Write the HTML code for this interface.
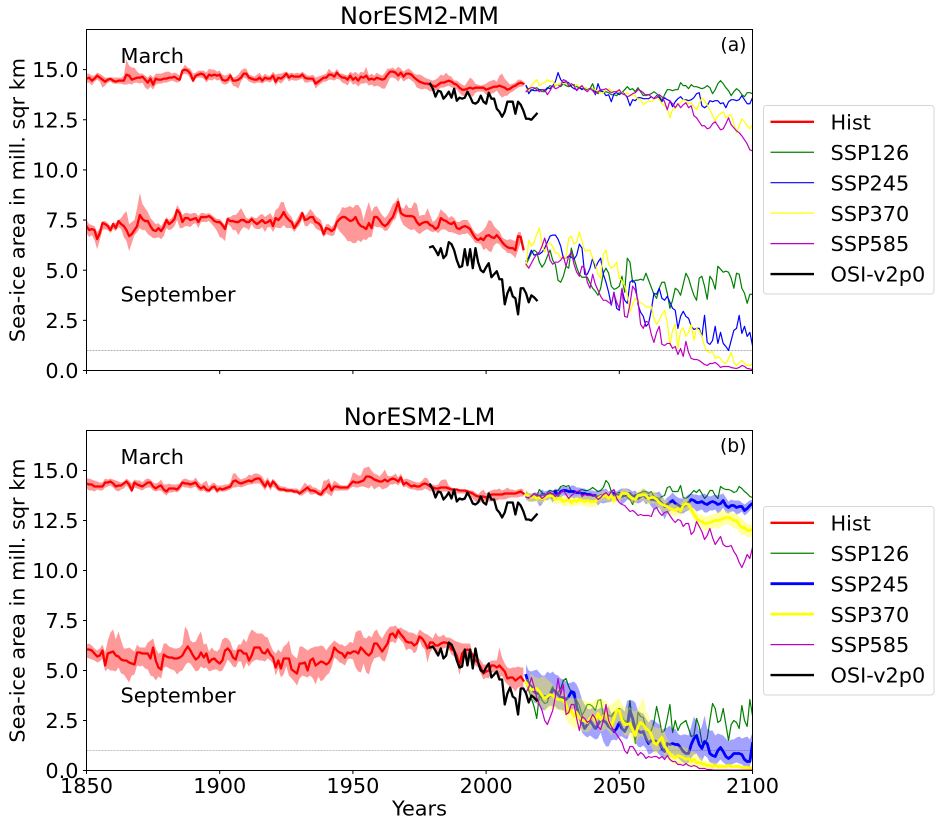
<!DOCTYPE html>
<html lang="en">
<head>
<meta charset="utf-8">
<title>Sea-ice area: NorESM2-MM and NorESM2-LM</title>
<style>
html,body{margin:0;padding:0;background:#fff;width:943px;height:823px;overflow:hidden}
svg{display:block;font-family:"DejaVu Sans","Liberation Sans",sans-serif;fill:#000}
</style>
</head>
<body>
<svg id="chart" xmlns="http://www.w3.org/2000/svg" width="943" height="823" viewBox="0 0 943 823">
  <text x="419.5" y="24" font-size="24" text-anchor="middle">NorESM2-MM</text>
  <text x="419.5" y="425" font-size="24" text-anchor="middle">NorESM2-LM</text>
  <text transform="translate(24.5,200) rotate(-90)" font-size="20.83" text-anchor="middle">Sea-ice area in mill. sqr km</text>
  <text transform="translate(24.5,600.5) rotate(-90)" font-size="20.83" text-anchor="middle">Sea-ice area in mill. sqr km</text>
  <text x="419.5" y="815.7" font-size="20.83" text-anchor="middle">Years</text>
</svg>
<script>
// ---------- shared axis data ----------
const xTickYears = [1850, 1900, 1950, 2000, 2050, 2100];
const xTickLabels = ["1850", "1900", "1950", "2000", "2050", "2100"];
const yTickValues = [0, 2.5, 5, 7.5, 10, 12.5, 15];
const yTickLabels = ["0.0", "2.5", "5.0", "7.5", "10.0", "12.5", "15.0"];
const thresholdValue = [1];
const histStartYear = 1850;
const sspStartYear = 2015;
const obsStartYear = 1979;

// ---------- observations (both panels) ----------
const osiMarch = [14.3,14.05,13.65,13.95,13.9,13.55,13.7,13.9,13.6,14.05,13.45,13.6,13.55,13.6,13.9,13.65,13.35,13.3,13.4,13.7,13.4,13.3,13.85,13.55,13.55,13.05,12.9,12.65,12.9,13.4,13.4,13.4,12.8,13.4,13.25,12.95,12.55,12.55,12.5,12.65,12.8];
const osiSeptember = [6.15,6.2,6.0,5.75,6.1,5.6,5.75,6.4,6.3,6.0,5.5,5.15,5.2,6.05,5.25,6.05,5.1,6.1,5.4,5.0,4.9,5.15,5.35,4.65,4.8,4.95,4.55,4.55,3.3,3.85,4.15,3.7,3.6,2.8,4.1,4.1,3.85,3.4,3.75,3.65,3.5];

// ---------- panel (a) NorESM2-MM, historical ----------
const mmMarMean = [14.55,14.6,14.45,14.55,14.7,14.6,14.5,14.4,14.5,14.55,
14.45,14.4,14.45,14.45,14.45,14.75,14.7,14.5,14.55,14.6,
14.6,14.65,14.5,14.35,14.55,14.25,14.55,14.5,14.5,14.55,
14.55,14.6,14.6,14.65,14.55,14.5,14.95,15.0,14.95,14.8,
14.45,14.7,14.75,14.8,14.75,14.55,14.75,14.7,14.75,14.7,
14.75,14.5,14.45,14.5,14.7,14.45,14.45,14.5,14.6,14.8,
14.8,14.6,14.55,14.5,14.5,14.6,14.45,14.6,14.55,14.55,
14.7,14.4,14.6,14.55,14.65,14.8,14.6,14.7,14.65,14.65,
14.65,14.75,14.6,14.55,14.55,14.55,14.3,14.4,14.5,14.6,
14.6,14.75,14.75,14.65,14.85,14.7,14.6,14.6,14.5,14.7,
14.5,14.6,14.45,14.65,14.6,14.7,14.5,14.55,14.5,14.6,
14.55,14.5,14.55,14.75,14.9,14.9,14.85,14.7,14.85,14.65,
14.8,14.8,14.75,14.6,14.5,14.4,14.35,14.3,14.3,14.25,
14.2,14.15,14.25,14.35,14.35,14.4,14.45,14.4,14.3,14.25,
14.1,14.0,14.0,14.05,14.1,14.05,14.1,14.1,14.1,14.1,
14.0,14.05,14.1,14.15,14.15,14.2,14.15,14.1,14.0,14.05,
14.15,14.2,14.3,14.35,14.3];
const mmMarHigh = [14.8,14.8,14.7,14.7,14.85,14.8,14.7,14.6,14.6,14.6,
14.6,14.6,14.6,14.6,14.7,15.5,15.2,15.1,15.1,14.9,
14.8,14.8,14.7,14.6,14.75,14.6,14.8,14.8,14.8,14.85,
14.9,14.9,14.8,14.85,14.8,14.7,15.05,15.25,15.1,15.05,
14.8,14.85,14.95,14.95,14.95,14.85,15.05,15.0,15.0,14.9,
14.95,14.75,14.7,14.75,14.85,14.6,14.65,14.75,14.95,15.05,
15.05,14.75,14.7,14.65,14.75,14.85,14.65,14.8,14.7,14.7,
14.9,14.75,14.8,14.8,14.85,14.9,14.8,14.85,14.8,14.85,
14.8,14.9,14.8,14.7,14.7,14.75,14.6,14.65,14.7,14.75,
14.8,15.05,14.9,14.85,15.05,14.8,14.8,14.75,14.7,14.9,
14.8,14.9,14.75,14.9,14.85,15.15,14.7,14.8,14.7,14.85,
14.75,14.7,14.85,15.05,15.05,15.1,15.0,15.15,15.05,14.9,
15.0,15.05,14.95,14.8,14.75,14.75,14.7,14.6,14.55,14.5,
14.45,14.5,14.6,14.75,14.7,14.85,14.7,14.65,14.45,14.45,
14.35,14.25,14.2,14.4,14.6,14.5,14.3,14.25,14.2,14.25,
14.3,14.4,14.45,14.5,14.4,14.7,14.8,14.55,14.4,14.25,
14.3,14.35,14.5,14.5,14.4];
const mmMarLow = [14.35,14.35,14.2,14.4,14.5,14.4,14.1,14.2,14.35,14.4,
14.3,14.3,14.3,14.3,14.25,14.25,14.3,14.25,14.35,14.35,
14.3,14.35,14.1,14.0,14.15,14.0,14.25,14.3,14.3,14.35,
14.35,14.4,14.45,14.4,14.35,14.4,14.75,14.8,14.75,14.55,
14.35,14.55,14.6,14.6,14.55,14.35,14.5,14.45,14.55,14.45,
14.5,14.3,14.25,14.3,14.45,14.2,14.15,14.05,14.4,14.6,
14.55,14.4,14.35,14.3,14.35,14.35,14.3,14.4,14.4,14.35,
14.5,14.2,14.4,14.3,14.45,14.6,14.4,14.5,14.45,14.45,
14.5,14.55,14.35,14.35,14.4,14.4,14.05,14.2,14.3,14.4,
14.4,14.5,14.5,14.45,14.55,14.5,14.35,14.3,14.2,14.45,
14.25,14.3,14.15,14.3,14.3,14.35,14.2,14.25,14.15,14.2,
14.15,14.05,14.05,14.3,14.6,14.6,14.55,14.4,14.6,14.4,
14.5,14.55,14.45,14.35,14.1,14.05,14.0,14.05,14.0,13.9,
13.95,13.95,14.0,14.1,14.1,14.15,14.2,14.1,14.1,14.0,
13.85,13.7,13.7,13.75,13.75,13.65,13.85,13.9,13.9,13.9,
13.75,13.7,13.8,13.85,13.95,13.75,13.6,13.7,13.7,13.85,
13.9,14.0,14.1,14.15,14.15];
const mmSepMean = [7.2,7.0,7.05,7.0,6.55,6.85,7.35,7.3,7.2,7.0,
7.3,7.1,7.45,7.3,7.2,7.0,6.7,6.8,7.0,7.2,
7.75,7.55,7.45,7.45,7.2,7.0,6.95,7.1,6.95,7.15,
7.5,7.3,7.4,7.55,8.0,7.85,7.4,7.6,7.6,7.5,
7.55,7.6,7.4,7.65,7.65,7.65,7.7,7.6,7.45,7.4,
7.4,7.25,7.05,7.55,7.45,7.45,7.4,7.4,7.5,7.5,
7.4,7.4,7.55,7.4,7.3,7.4,7.5,7.35,7.4,7.5,
7.2,7.6,7.5,7.65,7.9,7.65,7.5,7.4,7.1,7.3,
7.5,7.85,7.5,7.55,7.65,7.65,7.4,7.35,7.2,6.8,
7.1,7.05,6.95,7.05,7.4,7.55,7.65,7.65,7.55,7.45,
7.5,7.65,7.35,7.2,7.15,7.05,7.35,7.1,7.65,7.65,
7.5,7.3,7.2,7.3,7.5,7.65,8.0,8.4,7.85,7.75,
7.7,7.7,7.7,7.65,7.4,7.25,7.35,7.4,7.4,7.25,
7.2,7.05,7.15,7.6,7.5,7.45,7.35,7.3,7.4,7.1,
7.05,7.15,7.2,7.15,7.05,6.8,6.6,6.5,6.6,6.5,
6.7,6.75,6.65,6.6,6.75,6.6,6.4,6.25,6.15,6.1,
6.1,6.0,6.7,6.65,6.05];
const mmSepHigh = [7.5,7.3,7.25,7.2,6.9,7.1,7.45,7.45,7.35,7.2,
7.4,7.35,7.5,7.6,7.8,7.95,7.3,7.4,7.5,8.1,
8.85,8.3,8.1,7.9,7.6,7.45,7.3,7.35,7.2,7.4,
7.65,7.5,7.6,7.8,8.25,8.05,7.75,7.85,7.85,7.8,
7.85,7.85,7.7,7.85,7.85,7.8,7.85,7.75,7.65,7.55,
7.55,7.4,7.25,7.65,7.65,7.75,7.75,7.9,8.1,7.85,
7.6,7.55,7.7,7.6,7.6,7.75,7.8,7.65,7.75,7.85,
7.6,8.0,8.1,8.4,8.4,8.0,7.8,7.65,7.35,7.55,
7.8,7.95,7.7,7.85,8.05,7.9,7.7,7.6,7.5,7.05,
7.3,7.3,7.15,7.3,7.7,7.85,8.15,8.1,8.15,8.2,
8.1,8.25,8.25,8.05,7.5,8.0,8.4,7.9,8.15,8.2,
7.95,7.75,7.6,7.75,8.0,8.3,8.4,8.65,8.15,8.05,
8.3,8.1,8.1,8.4,8.3,7.7,7.75,7.75,8.1,7.75,
7.4,7.5,7.7,8.05,7.9,7.8,7.6,7.7,7.6,7.4,
7.4,7.5,7.5,7.5,7.3,7.05,6.85,6.8,6.9,7.0,
7.2,7.5,7.45,7.2,7.05,6.95,6.65,6.55,6.5,6.55,
6.5,6.45,6.9,6.9,6.35];
const mmSepLow = [6.85,6.65,6.75,6.5,6.05,6.5,7.0,7.05,7.0,6.85,
7.05,6.95,7.15,7.05,6.65,6.45,5.95,6.35,6.75,6.9,
7.1,7.0,7.0,6.8,6.7,6.6,6.6,6.65,6.55,6.7,
7.1,7.0,7.05,7.2,7.5,7.1,7.1,7.2,7.2,7.15,
7.3,7.35,7.1,7.4,7.4,7.4,7.45,7.3,7.15,6.95,
6.65,6.6,6.45,7.3,7.2,7.0,7.0,6.75,7.0,7.15,
7.1,7.0,7.3,7.1,7.05,7.05,7.15,6.9,7.15,7.15,
6.9,7.15,7.1,7.1,7.25,7.1,7.1,7.1,6.9,7.1,
7.25,7.55,7.2,7.2,7.35,7.3,7.1,7.0,6.95,6.65,
6.8,6.75,6.7,6.75,7.15,6.95,6.8,6.65,6.45,6.45,
6.35,6.35,6.5,6.4,6.55,6.5,6.65,6.65,7.2,7.15,
7.15,7.1,6.95,7.0,7.2,7.45,7.55,7.95,7.5,7.25,
7.15,7.05,7.0,7.05,6.9,6.8,6.9,7.0,7.05,6.95,
6.9,6.95,6.85,7.0,7.05,7.0,6.9,6.9,6.85,6.8,
6.75,6.8,6.8,6.85,6.7,6.55,6.35,6.35,6.3,6.0,
6.1,5.95,5.9,6.25,6.35,6.3,6.1,6.0,5.85,5.85,
5.75,5.6,6.0,6.4,5.8];

// ---------- panel (a) NorESM2-MM, scenarios ----------
const mmMarSsp126 = [14.2,14.0,13.95,14.05,14.1,
14.0,13.9,13.9,14.05,14.2,14.15,14.2,14.25,14.15,14.3,
14.2,14.15,14.2,14.25,14.15,14.1,14.05,14.05,14.0,14.05,
14.3,13.9,13.8,13.95,13.85,13.9,13.85,13.75,13.75,13.7,
13.85,13.85,14.0,14.15,14.0,14.05,13.9,14.1,13.9,13.7,
13.75,13.75,13.8,13.9,13.8,13.7,13.45,13.75,14.0,14.0,
13.95,14.0,14.0,14.35,14.2,14.2,14.05,14.25,14.15,14.15,
14.1,14.05,14.1,14.2,14.1,13.8,14.0,14.3,14.45,14.3,
14.1,13.95,13.7,13.9,14.05,13.95,13.75,13.65,13.85,13.85,
13.8];
const mmMarSsp245 = [14.2,13.8,14.0,13.95,13.95,
14.0,14.0,13.95,14.1,14.05,14.2,14.4,14.85,14.5,14.35,
14.4,14.35,14.15,14.05,14.0,14.1,14.0,14.1,14.05,14.05,
14.05,13.75,14.3,13.95,13.9,13.7,13.75,13.4,13.8,13.85,
13.75,13.85,13.8,13.6,13.2,13.5,13.45,13.6,13.6,13.55,
13.55,13.55,13.65,13.55,13.7,13.6,13.4,13.6,13.5,13.45,
13.15,13.4,13.55,13.65,13.5,13.5,13.45,13.5,13.6,13.8,
13.85,13.2,13.1,13.2,13.45,13.4,13.45,13.45,13.3,13.35,
13.1,13.4,13.5,13.5,13.45,13.5,13.7,13.5,13.3,13.3,
13.6];
const mmMarSsp370 = [14.05,13.95,14.2,14.35,14.5,
14.2,14.3,14.35,14.5,14.4,14.45,14.2,14.25,14.35,14.3,
14.3,14.25,14.3,14.15,14.25,14.15,14.2,14.1,14.05,14.0,
14.05,14.0,13.9,13.85,13.85,14.0,14.05,13.95,13.9,13.95,
13.9,13.85,13.75,13.85,13.75,13.7,13.7,13.5,13.5,13.25,
13.35,13.45,13.4,13.5,13.65,13.5,13.3,13.2,13.05,12.6,
13.0,13.1,13.2,13.35,13.5,13.45,13.3,13.35,13.15,13.0,
13.3,13.6,13.45,13.25,13.0,12.7,12.45,12.7,12.8,12.9,
12.6,12.7,12.75,12.3,11.85,12.2,12.55,12.4,12.2,12.05,
12.25];
const mmMarSsp585 = [13.9,14.05,14.1,14.1,14.0,
13.9,14.0,14.0,13.75,13.95,14.2,14.05,14.1,14.2,14.5,
14.45,14.2,14.3,14.2,13.95,14.1,14.2,14.0,13.9,14.05,
13.95,13.8,13.9,14.0,14.0,14.05,13.95,13.85,13.9,13.9,
14.0,13.8,13.75,13.65,13.7,13.8,13.85,14.0,13.95,13.85,
13.7,13.75,13.65,13.55,13.6,13.75,13.65,13.4,13.0,13.45,
13.3,13.1,13.3,13.1,13.25,13.35,13.1,13.2,12.7,12.6,
12.4,12.2,12.2,12.05,12.1,12.3,12.4,12.2,12.0,12.05,
12.3,12.6,12.25,12.1,11.95,11.85,11.7,11.5,11.3,11.0,
10.95];
const mmSepSsp126 = [5.3,5.55,5.85,6.0,5.9,
5.4,5.15,5.35,5.7,6.0,5.5,5.3,4.5,4.4,4.7,
5.2,5.1,6.1,5.6,5.15,4.8,4.65,4.65,4.65,4.35,
4.1,3.95,3.75,4.1,4.85,5.1,4.85,4.2,4.05,4.1,
4.2,4.7,3.9,5.6,5.4,4.4,4.5,4.5,4.55,4.5,
4.85,4.5,4.15,3.8,3.6,4.1,4.4,4.4,3.85,3.1,
3.5,4.1,4.0,3.75,4.3,4.85,4.6,4.15,3.75,3.5,
4.6,4.7,4.2,3.55,4.7,4.5,4.05,5.2,5.05,4.9,
4.95,4.9,4.6,4.1,4.85,4.8,4.1,3.85,3.35,3.8,
3.8];
const mmSepSsp245 = [5.45,5.65,6.0,5.75,5.8,
5.8,5.9,6.1,6.4,6.7,6.75,6.75,6.55,6.2,5.6,
5.6,5.7,5.65,5.55,5.75,6.3,6.1,4.8,4.8,5.1,
5.6,5.1,5.4,5.6,4.8,4.4,3.9,3.25,3.9,3.1,
3.0,4.05,3.5,3.35,4.4,4.5,4.35,3.3,2.9,2.7,
2.2,2.35,3.0,3.85,3.8,4.1,3.6,3.5,3.7,3.4,
3.1,3.0,2.1,2.7,2.95,2.7,2.6,2.2,2.05,2.1,
2.1,1.7,2.75,1.4,1.3,1.5,2.2,1.35,1.9,1.35,
1.2,1.0,1.5,2.0,2.1,2.75,1.85,2.2,1.7,1.9,
1.25];
const mmSepSsp370 = [5.15,6.5,6.2,6.4,6.8,
7.1,6.3,5.9,6.3,6.35,6.2,5.85,5.85,5.6,5.65,
5.6,6.6,6.7,6.3,6.4,6.9,6.45,5.95,6.0,6.0,
5.6,5.3,4.8,4.6,5.8,6.0,5.3,5.1,5.2,5.4,
4.6,4.5,4.2,3.8,2.9,3.3,3.6,3.4,3.4,3.3,
3.2,3.15,3.2,2.6,2.3,2.5,2.8,3.0,2.4,1.25,
2.0,2.3,1.1,2.0,2.1,1.7,1.9,2.3,1.5,2.1,
2.0,1.7,1.2,0.95,0.9,0.95,0.6,0.7,0.6,0.4,
0.35,0.6,0.9,0.4,0.25,0.4,0.5,0.35,0.25,0.25,
0.35];
const mmSepSsp585 = [5.3,5.1,5.35,5.6,5.8,
5.9,6.2,6.6,6.1,5.5,5.3,5.4,5.4,5.5,5.7,
5.2,5.7,5.9,5.3,4.9,4.7,5.2,5.1,4.4,4.1,
4.8,4.3,4.0,3.7,3.5,3.5,3.4,3.3,3.85,3.4,
3.1,4.1,2.7,2.65,3.3,4.2,4.0,3.5,2.3,2.1,
2.45,2.4,1.8,1.4,1.9,2.2,1.3,1.25,1.35,1.35,
1.1,1.2,0.8,1.1,0.7,1.45,0.9,0.6,0.55,0.55,
0.5,0.4,0.3,0.25,0.35,0.35,0.4,0.3,0.15,0.2,
0.2,0.2,0.15,0.12,0.1,0.15,0.25,0.2,0.1,0.08,
0.05];

// ---------- panel (b) NorESM2-LM, historical ----------
const lmMarMean = [14.35,14.3,14.3,14.2,14.2,14.2,14.2,14.4,14.4,14.45,
14.35,14.2,14.25,14.25,14.35,14.45,14.3,14.0,14.4,14.3,
14.25,14.2,14.3,14.4,14.4,14.2,14.1,14.2,14.25,14.05,
13.95,14.1,14.1,14.1,14.05,14.2,14.4,14.35,14.35,14.3,
14.35,14.4,14.2,14.1,14.2,14.05,14.0,14.15,14.2,14.0,
14.1,14.05,14.1,14.15,14.2,14.45,14.5,14.4,14.35,14.4,
14.45,14.5,14.45,14.55,14.6,14.6,14.4,14.2,14.45,14.2,
14.45,14.3,14.1,14.05,14.05,14.0,14.0,14.0,13.95,13.95,
13.85,13.95,14.05,14.15,14.0,14.0,13.95,13.85,13.8,14.0,
14.1,14.3,14.0,14.2,14.2,14.15,14.15,14.15,14.15,14.3,
14.45,14.4,14.4,14.45,14.5,14.7,14.7,14.65,14.55,14.5,
14.45,14.45,14.55,14.45,14.55,14.6,14.55,14.45,14.65,14.3,
14.4,14.3,14.2,14.25,14.2,14.2,14.3,14.35,14.3,14.2,
14.15,14.1,14.1,14.15,14.15,14.15,14.1,14.05,14.05,14.05,
14.0,14.0,14.0,13.95,13.9,13.85,13.75,13.7,13.7,13.7,
13.65,13.7,13.8,13.8,13.8,13.8,13.8,13.85,13.85,13.85,
13.85,13.85,13.9,13.95,13.85];
const lmMarHigh = [14.6,14.6,14.55,14.5,14.45,14.4,14.4,14.6,14.55,14.6,
14.55,14.5,14.45,14.4,14.45,14.6,14.5,14.35,14.55,14.5,
14.5,14.4,14.55,14.6,14.55,14.4,14.35,14.4,14.55,14.3,
14.3,14.35,14.3,14.3,14.3,14.35,14.55,14.6,14.55,14.5,
14.5,14.65,14.45,14.3,14.4,14.5,14.2,14.35,14.4,14.25,
14.25,14.25,14.3,14.3,14.4,14.85,14.85,14.65,14.55,14.6,
14.65,14.8,14.75,14.85,14.85,14.8,14.7,14.45,14.65,14.4,
14.6,14.45,14.3,14.2,14.2,14.15,14.1,14.1,14.1,14.1,
14.0,14.2,14.4,14.25,14.3,14.15,14.15,14.05,14.0,14.5,
14.5,14.6,14.25,14.5,14.4,14.3,14.25,14.25,14.25,14.5,
14.9,14.85,14.75,14.75,15.1,15.15,15.2,15.0,14.85,14.8,
14.7,14.85,15.05,14.75,14.7,14.75,14.85,14.65,14.85,14.55,
14.6,14.55,14.5,14.45,14.4,14.4,14.5,14.65,14.6,14.35,
14.3,14.25,14.3,14.5,14.55,14.55,14.25,14.15,14.1,14.1,
14.05,14.05,14.05,14.05,14.0,14.0,13.9,13.8,13.95,14.05,
13.85,13.95,14.0,14.05,14.05,14.1,14.0,14.05,14.15,14.05,
14.05,14.0,14.05,14.1,14.05];
const lmMarLow = [14.1,14.0,14.0,13.95,14.05,14.0,14.0,14.15,14.2,14.25,
14.15,14.0,13.95,14.05,14.1,14.25,14.1,13.9,14.15,14.1,
14.05,14.0,14.1,14.15,14.15,14.0,13.95,14.0,14.0,13.85,
13.75,13.9,13.9,13.95,13.9,14.0,14.2,14.15,14.15,14.1,
14.15,14.2,14.0,13.95,14.0,13.9,13.9,14.0,14.05,13.85,
13.95,13.95,13.95,14.0,14.05,14.15,14.15,14.2,14.15,14.2,
14.25,14.3,14.3,14.35,14.35,14.35,14.2,14.0,14.25,14.0,
14.2,14.1,13.95,13.95,13.95,13.9,13.9,13.9,13.85,13.85,
13.75,13.75,13.85,13.95,13.8,13.8,13.85,13.75,13.7,13.75,
13.9,13.8,13.7,14.0,14.0,14.0,14.0,14.0,14.0,14.1,
14.2,14.15,14.15,14.2,14.2,14.15,14.1,14.25,14.05,14.15,
14.2,14.05,14.1,14.15,14.3,14.3,14.35,14.25,14.4,14.15,
14.2,14.1,14.05,14.05,14.0,14.0,14.0,14.1,14.05,13.95,
14.0,13.9,13.9,13.95,13.95,13.95,13.9,13.85,13.85,13.85,
13.85,13.85,13.85,13.8,13.7,13.6,13.45,13.4,13.4,13.5,
13.45,13.45,13.45,13.5,13.5,13.55,13.55,13.55,13.6,13.65,
13.65,13.65,13.65,13.7,13.7];
const lmSepMean = [6.05,6.05,6.0,5.85,5.7,5.75,6.0,5.25,5.85,5.9,
5.95,5.75,5.7,5.55,5.5,5.5,5.4,5.35,5.3,5.9,
5.9,5.85,5.85,5.85,5.6,6.15,5.5,5.15,5.05,5.8,
5.7,5.65,5.65,5.6,5.6,5.65,5.75,6.0,6.2,6.0,
5.75,5.55,5.65,5.9,5.65,5.85,5.4,5.55,5.6,5.45,
5.35,5.5,6.0,6.1,5.95,5.65,5.55,6.0,6.0,5.85,
5.85,5.5,5.75,6.15,6.15,6.15,5.9,5.85,6.05,5.8,
5.65,5.15,5.5,5.1,5.6,5.6,5.6,5.05,4.95,4.85,
5.35,5.35,5.4,5.0,5.5,5.6,5.25,5.35,5.45,5.4,
5.3,5.4,5.65,6.15,6.0,5.9,5.85,5.65,5.9,5.85,
5.95,5.95,5.85,6.15,6.0,5.85,5.75,5.9,6.35,6.35,
6.15,5.95,6.15,6.35,6.8,6.85,6.65,7.0,6.8,6.65,
6.45,6.4,6.4,6.25,6.35,6.7,6.6,6.4,6.1,6.4,
6.4,6.25,6.25,6.35,6.4,6.4,6.3,6.05,6.0,5.75,
5.25,5.85,6.0,6.05,6.0,5.75,5.5,5.4,5.15,4.85,
4.95,5.0,5.25,5.25,5.15,5.25,5.1,4.95,4.6,4.65,
4.65,4.5,4.6,4.7,4.5];
const lmSepHigh = [6.3,6.35,6.25,6.1,6.0,6.1,6.3,5.9,6.5,6.9,
7.05,6.55,6.95,6.5,6.1,6.1,6.15,6.05,5.95,6.3,
6.15,6.15,6.15,6.4,6.5,6.6,6.1,5.85,5.9,6.35,
6.35,6.2,6.15,6.1,6.1,6.15,6.3,7.2,7.0,6.5,
6.4,6.45,6.75,6.95,6.3,6.35,5.95,6.15,6.0,5.95,
6.1,6.55,6.65,6.6,6.45,6.05,6.0,6.3,6.3,6.6,
6.4,6.8,7.05,6.95,6.85,6.85,6.85,6.7,6.65,6.3,
6.0,5.85,6.05,5.9,6.2,6.3,6.5,5.85,5.7,5.6,
6.2,6.2,6.1,6.0,6.1,6.15,6.2,6.2,6.25,6.2,
6.0,6.2,6.35,6.5,6.4,6.3,6.3,6.2,6.3,6.45,
6.35,6.9,7.0,7.0,6.65,6.6,6.75,6.65,6.95,7.05,
6.75,6.6,6.85,7.05,7.2,7.2,7.25,7.1,7.15,7.05,
7.0,6.9,6.9,6.85,6.75,7.05,6.95,6.85,6.8,6.7,
6.6,6.9,6.7,6.7,6.8,6.65,6.65,6.6,6.5,6.45,
6.4,6.35,6.35,6.35,6.35,5.8,5.75,5.65,5.5,5.3,
5.3,5.4,5.5,5.5,5.5,6.15,5.65,5.35,5.15,5.1,
5.15,5.15,5.2,5.15,5.15];
const lmSepLow = [5.65,5.6,5.55,5.5,5.4,5.45,5.6,4.95,5.1,5.0,
5.0,4.95,5.15,4.85,4.8,4.6,4.4,4.75,4.8,5.25,
5.2,5.25,5.1,5.05,4.75,4.7,4.5,4.7,4.6,5.15,
5.2,5.1,5.05,5.0,4.8,4.95,5.0,5.25,5.4,5.35,
5.15,4.95,5.0,5.2,5.1,5.15,4.95,5.0,5.05,5.05,
4.95,5.0,5.25,5.55,5.4,5.2,5.15,5.45,5.45,5.05,
5.4,5.2,5.4,5.5,5.55,5.5,5.5,5.45,5.6,5.5,
5.35,4.75,5.1,4.65,4.8,5.2,4.75,4.6,4.45,4.25,
4.6,4.75,4.7,4.65,4.75,4.6,4.3,4.7,4.45,4.55,
4.75,4.85,5.15,5.65,5.55,5.4,5.35,5.25,5.55,5.6,
5.55,5.15,4.95,4.9,5.35,4.9,4.8,5.3,5.6,5.65,
5.7,5.5,5.45,5.85,6.4,6.45,6.35,6.65,6.5,6.35,
6.0,6.1,6.05,5.85,6.0,6.5,6.2,6.05,5.4,5.9,
6.1,5.8,5.85,6.1,6.1,6.15,6.05,5.8,5.7,5.45,
4.75,5.4,5.6,5.65,5.7,5.55,5.25,5.15,4.85,4.55,
4.65,4.6,4.9,4.9,4.85,4.6,4.75,4.45,4.3,4.2,
4.1,3.95,4.15,4.2,4.0];

// ---------- panel (b) NorESM2-LM, scenarios ----------
const lmMarSsp126 = [13.7,13.65,13.65,13.7,13.7,
14.05,13.9,13.7,13.9,14.0,13.95,14.0,14.0,14.2,14.25,
14.2,14.25,13.95,13.9,13.85,14.0,14.05,14.0,14.0,14.05,
14.15,14.05,13.95,14.0,14.15,14.5,14.35,13.95,13.85,13.85,
13.9,13.8,13.75,13.65,13.55,13.3,13.7,13.85,13.9,13.95,
13.95,13.85,13.95,13.7,13.65,13.6,13.7,13.75,14.15,14.2,
13.95,13.95,13.95,14.25,13.65,13.6,13.7,13.85,14.0,13.9,
14.05,13.85,13.6,13.75,14.0,14.0,13.75,13.6,14.2,14.1,
14.05,14.05,14.0,13.9,13.95,14.2,14.1,13.95,13.85,13.7,
13.65];
const lmMarSsp245 = [13.8,13.65,13.7,13.75,13.75,
13.7,13.8,13.8,13.75,13.85,13.65,13.95,13.75,13.95,14.0,
14.0,13.95,13.95,13.95,13.9,13.9,13.85,13.85,13.8,13.8,
13.75,13.75,13.65,13.75,13.7,13.75,13.65,13.7,13.85,13.75,
13.75,13.7,13.75,13.85,13.85,13.7,13.75,13.6,13.7,13.8,
13.65,13.7,13.55,13.55,13.5,13.5,13.35,13.2,13.3,13.4,
13.5,13.35,13.3,13.2,13.2,13.3,13.4,13.55,13.5,13.4,
13.4,13.45,13.35,13.3,13.4,13.45,13.4,13.3,13.35,13.5,
13.25,13.15,13.25,13.25,13.15,13.2,13.2,13.0,13.1,13.25,
13.35];
const lmMarSsp245High = [14.0,13.85,13.85,13.9,13.9,
13.9,14.05,13.95,14.0,14.05,14.0,14.1,14.05,14.15,14.2,
14.2,14.15,14.25,14.25,14.15,14.15,14.1,14.1,14.0,14.0,
14.0,13.95,14.0,14.05,14.05,14.1,13.95,14.0,14.05,13.95,
14.05,14.1,14.1,14.1,14.05,13.95,14.0,13.85,13.95,14.1,
14.0,13.95,13.9,13.9,13.9,13.95,13.75,13.5,13.65,13.75,
13.9,13.75,13.65,13.6,13.6,13.7,13.8,13.85,13.8,13.8,
13.75,13.8,13.85,13.75,13.7,13.75,13.8,13.75,13.8,13.85,
13.65,13.45,13.55,13.5,13.5,13.5,13.4,13.3,13.4,13.5,
13.55];
const lmMarSsp245Low = [13.55,13.45,13.45,13.45,13.5,
13.2,13.3,13.55,13.5,13.6,13.4,13.6,13.5,13.65,13.75,
13.75,13.7,13.65,13.6,13.65,13.6,13.55,13.55,13.5,13.4,
13.4,13.45,13.25,13.4,13.35,13.4,13.4,13.45,13.65,13.45,
13.5,13.3,13.4,13.55,13.5,13.35,13.4,13.35,13.4,13.5,
13.3,13.4,13.2,13.05,13.1,13.15,12.9,12.55,12.85,12.95,
13.1,13.0,12.9,12.85,12.85,12.95,13.0,13.15,13.1,12.95,
13.0,13.05,12.9,12.9,13.0,13.0,13.05,12.85,12.95,13.15,
12.9,12.85,12.95,12.95,12.8,12.85,12.95,12.75,12.85,13.0,
13.15];
const lmMarSsp370 = [13.8,13.7,13.65,13.7,13.6,
13.65,13.6,13.65,13.7,13.75,13.7,13.55,13.6,13.6,13.45,
13.5,13.55,13.4,13.5,13.45,13.55,13.5,13.45,13.5,13.45,
13.45,13.45,13.6,13.7,13.7,13.75,13.6,13.75,13.5,13.7,
13.65,13.85,13.85,13.85,13.7,13.6,13.55,13.75,13.75,13.8,
13.75,13.6,13.65,13.65,13.55,13.4,13.3,13.25,13.2,13.1,
13.05,13.0,13.1,13.0,13.25,13.35,13.3,13.05,12.8,12.6,
12.5,12.45,12.35,12.35,12.4,12.45,12.5,12.5,12.55,12.6,
12.65,12.65,12.6,12.5,12.5,12.3,12.15,12.15,12.0,12.0,
12.05];
const lmMarSsp370High = [14.05,13.95,13.85,13.85,13.85,
13.85,13.85,13.85,13.9,13.95,13.95,13.8,13.8,13.85,13.7,
13.75,13.8,13.7,13.7,13.7,13.75,13.75,13.75,13.75,13.75,
13.7,13.75,13.85,13.9,13.95,14.0,13.85,13.95,13.8,13.9,
13.85,14.05,14.1,14.05,13.95,13.85,13.8,14.0,14.05,14.1,
14.05,13.9,13.95,14.0,13.85,13.7,13.65,13.55,13.5,13.4,
13.35,13.3,13.4,13.35,13.5,13.7,13.55,13.3,13.1,12.95,
12.8,12.8,12.7,12.7,12.75,12.8,12.85,12.9,13.0,13.0,
13.0,12.95,12.95,12.85,12.85,12.7,12.6,12.45,12.35,12.3,
12.3];
const lmMarSsp370Low = [13.55,13.45,13.4,13.45,13.35,
13.4,13.35,13.4,13.5,13.5,13.45,13.3,13.35,13.35,13.2,
13.2,13.3,13.15,13.25,13.2,13.3,13.25,13.2,13.2,13.15,
13.2,13.15,13.35,13.45,13.45,13.5,13.35,13.5,13.25,13.45,
13.4,13.6,13.6,13.6,13.45,13.35,13.3,13.5,13.5,13.5,
13.4,13.3,13.35,13.35,13.25,13.1,13.0,12.95,12.9,12.8,
12.75,12.7,12.8,12.7,12.95,13.0,13.0,12.8,12.5,12.3,
12.2,12.1,12.0,12.0,12.05,12.1,12.15,12.1,12.15,12.25,
12.3,12.3,12.25,12.1,12.1,11.9,11.75,11.8,11.65,11.65,
11.75];
const lmMarSsp585 = [13.65,13.65,13.7,13.85,13.8,
13.75,13.6,13.7,13.85,13.9,13.85,13.7,13.85,13.9,14.0,
13.8,13.6,13.75,13.85,13.95,13.95,13.7,13.8,13.75,13.75,
13.8,13.7,13.55,13.65,13.8,13.9,13.75,13.95,14.05,13.6,
13.4,13.3,13.25,13.1,12.95,13.0,12.9,12.75,12.8,12.75,
12.75,12.75,12.7,13.05,13.15,12.9,12.75,12.9,12.95,12.75,
12.55,12.4,12.55,12.5,12.2,12.35,12.35,11.8,11.95,12.45,
12.2,11.95,11.55,11.75,12.1,11.65,11.3,11.5,11.7,11.3,
11.2,11.2,11.25,10.95,10.75,10.4,10.15,10.45,10.8,10.6,
11.15];
const lmSepSsp126 = [4.4,4.0,3.6,3.2,2.6,
3.8,3.5,3.35,3.4,3.9,4.2,3.85,3.9,4.1,4.5,
4.6,4.2,3.9,3.7,3.5,3.25,2.75,3.0,3.3,3.3,
3.2,3.0,3.5,3.55,2.75,2.9,2.75,2.7,2.9,3.0,
3.1,2.7,2.45,2.5,3.5,2.3,1.35,2.9,2.7,2.65,
2.1,1.9,2.0,2.4,3.2,2.6,1.9,2.0,2.6,3.3,
1.9,2.5,2.0,2.3,2.4,2.5,2.1,1.7,1.75,2.6,
2.2,1.4,1.3,1.6,2.5,3.35,3.1,2.4,2.5,3.1,
2.3,1.5,2.3,2.5,2.4,2.1,3.25,2.5,2.2,3.55,
2.75];
const lmSepSsp245 = [4.75,4.3,4.2,3.95,3.85,
3.85,3.7,3.7,3.65,3.75,4.05,3.95,3.8,3.65,3.65,
3.55,3.7,3.95,3.9,3.2,2.7,2.4,2.1,2.3,2.5,
2.3,2.1,2.3,2.55,2.5,2.4,2.2,2.1,1.95,2.1,
2.4,2.1,1.95,2.2,3.0,2.6,2.05,2.0,1.9,1.95,
1.6,1.35,1.5,1.5,1.45,1.4,1.1,0.95,1.35,1.3,
1.35,1.3,1.3,1.15,0.95,0.85,0.85,1.3,1.6,1.75,
1.3,1.1,1.45,1.35,0.85,0.75,0.7,1.0,1.15,0.95,
0.7,0.6,0.7,0.85,0.85,0.85,0.8,0.55,0.45,0.45,
1.35];
const lmSepSsp245High = [5.3,5.0,4.95,5.0,5.05,
4.9,4.75,4.75,4.95,4.85,4.95,4.8,4.75,4.6,4.55,
4.45,4.35,4.4,4.45,4.3,4.0,3.55,3.3,3.1,3.05,
3.15,3.1,3.05,3.15,3.1,3.1,3.2,2.85,2.95,2.9,
3.15,3.1,2.95,3.5,3.5,3.5,3.4,3.0,2.9,2.85,
2.6,2.4,2.55,2.5,2.4,2.3,2.05,2.1,2.15,2.25,
2.05,2.1,1.85,1.75,1.8,1.8,1.75,2.2,2.7,2.45,
1.95,2.2,2.75,2.1,2.0,2.0,1.75,1.85,1.8,1.75,
1.6,1.45,1.55,1.55,1.65,1.7,1.6,1.65,1.7,1.55,
1.9];
const lmSepSsp245Low = [4.45,3.9,3.7,3.4,3.35,
3.25,3.05,3.0,3.15,3.25,3.2,3.2,3.05,3.05,3.0,
2.9,2.9,3.0,3.1,2.75,2.45,1.9,1.75,1.65,1.75,
1.65,1.55,1.6,1.9,1.45,1.2,1.2,1.5,1.55,1.5,
1.7,1.7,1.6,1.55,1.9,1.85,1.4,1.2,1.15,1.25,
1.1,0.8,0.85,0.95,0.95,0.8,0.65,0.6,0.75,0.7,
0.85,0.7,0.65,0.5,0.4,0.35,0.4,0.6,0.8,0.85,
0.6,0.45,0.75,0.65,0.4,0.35,0.25,0.4,0.55,0.4,
0.3,0.25,0.3,0.35,0.4,0.35,0.3,0.2,0.2,0.2,
0.7];
const lmSepSsp370 = [4.4,4.2,4.05,4.05,4.1,
3.95,3.75,3.6,3.7,3.8,3.75,3.6,3.55,3.55,3.5,
3.3,2.9,3.0,2.7,2.9,2.65,2.5,2.5,2.4,2.6,
2.75,2.5,2.85,2.55,2.7,2.85,2.5,2.2,2.6,3.0,
3.0,2.55,2.3,2.3,2.35,2.05,1.75,2.2,2.4,2.3,
2.1,2.0,1.8,1.4,1.3,1.5,1.65,1.25,1.0,0.85,
0.7,0.65,0.75,0.7,0.65,0.55,0.6,0.45,0.55,0.4,
0.4,0.35,0.3,0.25,0.25,0.2,0.25,0.2,0.2,0.2,
0.2,0.25,0.2,0.2,0.2,0.2,0.15,0.15,0.15,0.12,
0.12];
const lmSepSsp370High = [4.6,4.55,4.85,4.7,4.65,
4.6,4.7,4.7,4.55,4.45,4.3,4.15,4.1,4.0,3.95,
3.85,3.65,3.6,3.6,3.65,3.6,3.55,3.5,3.45,3.4,
3.4,3.55,3.55,3.6,3.5,3.5,3.3,3.25,3.4,3.55,
3.6,3.3,3.2,3.1,3.15,3.0,2.95,3.1,3.35,3.7,
2.95,2.75,2.4,2.15,2.15,2.1,2.2,1.95,1.6,1.4,
1.25,1.2,1.2,1.2,1.2,1.1,1.1,0.95,0.95,0.8,
0.7,0.6,0.5,0.45,0.45,0.4,0.4,0.35,0.35,0.3,
0.3,0.35,0.3,0.3,0.3,0.3,0.25,0.25,0.25,0.2,
0.2];
const lmSepSsp370Low = [4.1,3.85,3.6,3.5,3.35,
3.3,3.2,3.0,3.1,3.1,3.0,3.1,3.05,2.95,2.8,
2.65,2.3,2.3,2.1,2.2,2.0,1.95,1.95,1.9,2.0,
2.2,1.95,2.3,1.95,2.0,2.1,1.95,1.75,2.0,2.4,
2.35,1.95,1.75,1.75,1.75,1.5,1.3,1.6,1.75,1.65,
1.5,1.35,1.2,0.9,0.8,1.05,1.1,0.7,0.55,0.45,
0.35,0.3,0.35,0.3,0.3,0.25,0.25,0.15,0.2,0.1,
0.15,0.1,0.1,0.1,0.1,0.05,0.1,0.05,0.05,0.05,
0.05,0.1,0.1,0.1,0.1,0.1,0.05,0.05,0.05,0.05,
0.05];
const lmSepSsp585 = [3.9,4.15,4.65,4.2,3.65,
3.3,3.0,2.5,2.3,2.65,3.0,3.7,4.6,3.8,4.3,
2.8,2.9,3.3,3.3,2.6,2.0,2.7,2.6,2.4,2.5,
2.8,2.6,2.2,2.05,2.5,3.3,2.5,2.2,2.0,1.8,
1.6,1.4,1.0,0.85,1.2,1.2,1.0,0.75,0.9,0.8,
0.6,0.7,0.65,0.7,0.7,0.6,0.7,0.55,0.75,0.55,
0.45,0.45,0.3,0.3,0.25,0.35,0.25,0.2,0.25,0.2,
0.1,0.1,0.1,0.05,0.05,0.03,0.02,0.02,0.02,0.02,
0.02,0.02,0.02,0.02,0.02,0.02,0.02,0.02,0.02,0.02,
0.02];

// ---------- legend data ----------
const legendLabels = ["Hist", "SSP126", "SSP245", "SSP370", "SSP585", "OSI-v2p0"];
const legendColors = ["#ff0000", "#008000", "#0000ff", "#ffff00", "#bf00bf", "#000000"];
const legendWidthsA = [2.3, 1.2, 1.2, 1.2, 1.2, 2.3];
const legendWidthsB = [2.3, 1.2, 2.8, 2.8, 1.2, 2.3];

// ---------- axis geometry and scales ----------
const SVGNS = "http://www.w3.org/2000/svg";
const chart = document.getElementById("chart");
const plotLeft = 86.5, plotRight = 752.5;
const xMin = 1850, xMax = 2100, yMin = 0, yMax = 17;

function xScale(year) {
  return plotLeft + (year - xMin) / (xMax - xMin) * (plotRight - plotLeft);
}
function makeYScale(top, bottom) {
  return function (v) { return bottom - (v - yMin) / (yMax - yMin) * (bottom - top); };
}
function make(tag, parent, name) {
  const el = document.createElementNS(SVGNS, tag);
  
  
  parent.appendChild(el);
  return el;
}
function linePath(startYear, values, y) {
  let d = "";
  values.forEach(function (v, i) {
    d += (i ? "L" : "M") + xScale(startYear + i).toFixed(2) + " " + y(v).toFixed(2);
  });
  return d;
}
function drawLine(parent, name, startYear, values, y, color, width) {
  const p = make("path", parent, name);
  p.setAttribute("d", linePath(startYear, values, y));
  p.setAttribute("fill", "none");
  p.setAttribute("stroke", color);
  p.setAttribute("stroke-width", width);
  p.setAttribute("stroke-linejoin", "round");
  p.setAttribute("stroke-linecap", "square");
}
function drawBand(parent, name, startYear, high, low, y, color, opacity) {
  let d = linePath(startYear, high, y);
  for (let i = low.length - 1; i >= 0; i--) {
    d += "L" + xScale(startYear + i).toFixed(2) + " " + y(low[i]).toFixed(2);
  }
  const p = make("path", parent, name);
  p.setAttribute("d", d + "Z");
  p.setAttribute("fill", color);
  p.setAttribute("fill-opacity", opacity);
  p.setAttribute("stroke", "none");
}
function drawLabel(parent, name, x, yPos, size, anchor, content) {
  const t = make("text", parent, name);
  t.setAttribute("x", x);
  t.setAttribute("y", yPos);
  t.setAttribute("font-size", size);
  t.setAttribute("text-anchor", anchor);
  t.textContent = content;
}

function drawPanel(cfg) {
  const y = makeYScale(cfg.top, cfg.bottom);
  const g = make("g", chart, "panel-" + cfg.id);

  const defs = make("defs", g, "panel-" + cfg.id + "-defs");
  const clip = make("clipPath", defs, "panel-" + cfg.id + "-clip");
  clip.setAttribute("id", "clip-" + cfg.id);
  const clipRect = make("rect", clip, "panel-" + cfg.id + "-clip-rect");
  clipRect.setAttribute("x", plotLeft);
  clipRect.setAttribute("y", cfg.top);
  clipRect.setAttribute("width", plotRight - plotLeft);
  clipRect.setAttribute("height", cfg.bottom - cfg.top);

  const marks = make("g", g, "panel-" + cfg.id + "-plot-area");
  marks.setAttribute("clip-path", "url(#clip-" + cfg.id + ")");

  thresholdValue.forEach(function (v) {
    const th = make("line", marks, "one-million-threshold-line");
    th.setAttribute("x1", plotLeft);
    th.setAttribute("x2", plotRight);
    th.setAttribute("y1", y(v));
    th.setAttribute("y2", y(v));
    th.setAttribute("stroke", "#808080");
    th.setAttribute("stroke-width", "0.6");
    th.setAttribute("stroke-dasharray", "2 1");
  });

  cfg.groups.forEach(function (m) {
    drawBand(marks, "hist-band-" + m.month, histStartYear, m.histHigh, m.histLow, y, "#ff0000", 0.4);
    drawLine(marks, "hist-line-" + m.month, histStartYear, m.hist, y, "#ff0000", 2.3);
    drawLine(marks, "ssp126-line-" + m.month, sspStartYear, m.ssp126, y, "#008000", 1.2);
    if (m.ssp245High) {
      drawBand(marks, "ssp245-band-" + m.month, sspStartYear, m.ssp245High, m.ssp245Low, y, "#0000ff", 0.36);
    }
    drawLine(marks, "ssp245-line-" + m.month, sspStartYear, m.ssp245, y, "#0000ff", cfg.thick ? 2.8 : 1.2);
    if (m.ssp370High) {
      drawBand(marks, "ssp370-band-" + m.month, sspStartYear, m.ssp370High, m.ssp370Low, y, "#ffff00", 0.36);
    }
    drawLine(marks, "ssp370-line-" + m.month, sspStartYear, m.ssp370, y, "#ffff00", cfg.thick ? 2.8 : 1.2);
    drawLine(marks, "ssp585-line-" + m.month, sspStartYear, m.ssp585, y, "#bf00bf", 1.2);
    drawLine(marks, "osi-line-" + m.month, obsStartYear, m.osi, y, "#000000", 2.3);
  });

  // frame
  const frame = make("rect", g, "panel-" + cfg.id + "-frame");
  frame.setAttribute("x", plotLeft);
  frame.setAttribute("y", cfg.top);
  frame.setAttribute("width", plotRight - plotLeft);
  frame.setAttribute("height", cfg.bottom - cfg.top);
  frame.setAttribute("fill", "none");
  frame.setAttribute("stroke", "#000");
  frame.setAttribute("stroke-width", "1");

  // y axis
  yTickValues.forEach(function (v, i) {
    const t = make("line", g, "y-tick-" + yTickLabels[i]);
    t.setAttribute("x1", plotLeft - 3.5);
    t.setAttribute("x2", plotLeft);
    t.setAttribute("y1", y(v));
    t.setAttribute("y2", y(v));
    t.setAttribute("stroke", "#000");
    t.setAttribute("stroke-width", "1");
    drawLabel(g, "y-tick-label-" + yTickLabels[i], 78.5, y(v) + 7.6, 20.83, "end", yTickLabels[i]);
  });

  // x axis
  xTickYears.forEach(function (yr, i) {
    const t = make("line", g, "x-tick-" + xTickLabels[i]);
    t.setAttribute("x1", xScale(yr));
    t.setAttribute("x2", xScale(yr));
    t.setAttribute("y1", cfg.bottom);
    t.setAttribute("y2", cfg.bottom + 3.5);
    t.setAttribute("stroke", "#000");
    t.setAttribute("stroke-width", "1");
    if (cfg.showXLabels) {
      drawLabel(g, "x-tick-label-" + xTickLabels[i], xScale(yr), cfg.bottom + 22.6, 20.83, "middle", xTickLabels[i]);
    }
  });

  // annotations
  drawLabel(g, "march-label", 120.5, cfg.top + 33.5, 20.83, "start", "March");
  drawLabel(g, "september-label", 120.5, cfg.top + 272, 20.83, "start", "September");
  drawLabel(g, "panel-" + cfg.id + "-letter", 746.5, cfg.top + 21.5, 18.75, "end", cfg.letter);

  // legend
  const lg = make("g", g, "panel-" + cfg.id + "-legend");
  const box = make("rect", lg, "legend-box");
  box.setAttribute("x", 763.5);
  box.setAttribute("y", cfg.top + 76);
  box.setAttribute("width", 170.5);
  box.setAttribute("height", 188.5);
  box.setAttribute("rx", 3);
  box.setAttribute("fill", "#fff");
  box.setAttribute("stroke", "#d6d6d6");
  box.setAttribute("stroke-width", "1");
  legendLabels.forEach(function (label, i) {
    const rowY = cfg.top + 92.3 + i * 30.45;
    const ln = make("line", lg, "legend-handle-" + label.toLowerCase());
    ln.setAttribute("x1", 770.5);
    ln.setAttribute("x2", 814);
    ln.setAttribute("y1", rowY);
    ln.setAttribute("y2", rowY);
    ln.setAttribute("stroke", legendColors[i]);
    ln.setAttribute("stroke-width", cfg.legendWidths[i]);
    drawLabel(lg, "legend-label-" + label.toLowerCase(), 830.5, rowY + 7.6, 20.83, "start", label);
  });
}

drawPanel({
  id: "a", letter: "(a)", top: 29.5, bottom: 370.5, showXLabels: false, thick: false, legendWidths: legendWidthsA,
  groups: [
    { month: "march", hist: mmMarMean, histHigh: mmMarHigh, histLow: mmMarLow, ssp126: mmMarSsp126, ssp245: mmMarSsp245, ssp370: mmMarSsp370, ssp585: mmMarSsp585, osi: osiMarch },
    { month: "september", hist: mmSepMean, histHigh: mmSepHigh, histLow: mmSepLow, ssp126: mmSepSsp126, ssp245: mmSepSsp245, ssp370: mmSepSsp370, ssp585: mmSepSsp585, osi: osiSeptember }
  ]
});
drawPanel({
  id: "b", letter: "(b)", top: 430.5, bottom: 770.5, showXLabels: true, thick: true, legendWidths: legendWidthsB,
  groups: [
    { month: "march", hist: lmMarMean, histHigh: lmMarHigh, histLow: lmMarLow, ssp126: lmMarSsp126, ssp245: lmMarSsp245, ssp245High: lmMarSsp245High, ssp245Low: lmMarSsp245Low, ssp370: lmMarSsp370, ssp370High: lmMarSsp370High, ssp370Low: lmMarSsp370Low, ssp585: lmMarSsp585, osi: osiMarch },
    { month: "september", hist: lmSepMean, histHigh: lmSepHigh, histLow: lmSepLow, ssp126: lmSepSsp126, ssp245: lmSepSsp245, ssp245High: lmSepSsp245High, ssp245Low: lmSepSsp245Low, ssp370: lmSepSsp370, ssp370High: lmSepSsp370High, ssp370Low: lmSepSsp370Low, ssp585: lmSepSsp585, osi: osiSeptember }
  ]
});
</script>
</body>
</html>
